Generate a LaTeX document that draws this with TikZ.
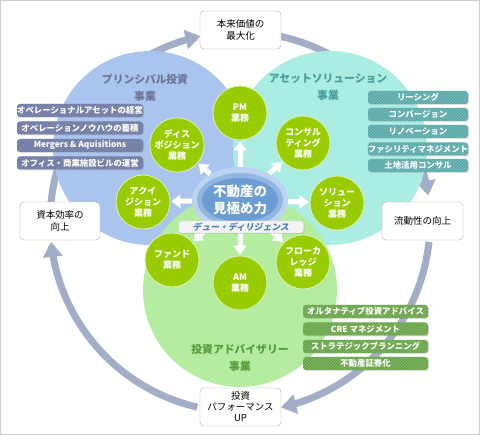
\documentclass[tikz,border=0pt]{standalone}
\usepackage{fontspec}
\setmainfont{Noto Sans CJK JP}
\newfontfamily\jpslant[FakeSlant=0.18]{Noto Sans CJK JP}
\usetikzlibrary{arrows.meta,shapes.geometric,patterns,shadows}
\definecolor{cyc}{HTML}{A2ADC8}
\definecolor{vblue}{HTML}{A9C5EE}
\definecolor{vcyan}{HTML}{ABEDE3}
\definecolor{vgreen}{HTML}{B4EDA0}
\definecolor{lime}{HTML}{99CC00}
\definecolor{tblue}{HTML}{6C7494}
\definecolor{tteal}{HTML}{4A9E9E}
\definecolor{tgreen}{HTML}{5A9A3C}
\definecolor{lblue}{HTML}{6B77A3}
\definecolor{lteal}{HTML}{58A9A9}
\definecolor{lgreen}{HTML}{67A446}
\definecolor{glowa}{HTML}{BCD4F0}
\definecolor{glowb}{HTML}{92B6E2}
\definecolor{glowc}{HTML}{6C9CD4}
\definecolor{ddtext}{HTML}{4A7EC4}
\begin{document}
\begin{tikzpicture}[x=1pt,y=-1pt,
  cyclearc/.style={draw=cyc, line width=7pt, -{Triangle[length=15pt,width=19pt]}},
  venn/.style={circle, minimum size=194pt, inner sep=0pt},
  title/.style={align=center, font=\bfseries\fontsize{10.8}{17}\selectfont, inner sep=0pt},
  valbox/.style={draw=gray!70, rounded corners=4pt, fill=white, align=center,
    font=\fontsize{9.5}{12.5}\selectfont, inner sep=0pt, minimum height=38pt, minimum width=81pt},
  listbox/.style={rounded corners=3pt, minimum height=13pt, inner sep=0pt, text=white,
    font=\bfseries\fontsize{8.4}{9}\selectfont,
    drop shadow={opacity=0.25, shadow xshift=1pt, shadow yshift=-1pt}},
  lb/.style={listbox, fill=lblue, minimum width=126pt,
    postaction={pattern=north east lines, pattern color=lblue!75!white}},
  lt/.style={listbox, fill=lteal, minimum width=100pt,
    postaction={pattern=north east lines, pattern color=lteal!75!white}},
  lg/.style={listbox, fill=lgreen, minimum width=125pt,
    postaction={pattern=north east lines, pattern color=lgreen!75!white}},
  bizc/.style={circle, fill=lime, draw=white!70!lime, line width=0.8pt, minimum size=54pt,
    inner sep=0pt, text=white, align=center, font=\bfseries\fontsize{9}{11}\selectfont},
  warrow/.style={draw=white, line width=5pt, -{Triangle[length=9pt,width=13pt]}, shorten >=1pt},
]
\useasboundingbox (0,0) rectangle (480,435);
\fill[white] (0,0) rectangle (480,435);
\draw[gray!40, line width=1pt] (0.5,0.5) rectangle (479.5,434.5);

% cycle arcs
\draw[cyclearc] plot[domain=186:258, samples=60] ({240+190*cos(\x)},{222+190*sin(\x)});
\draw[cyclearc] plot[domain=276:352, samples=60] ({240+190*cos(\x)},{222+190*sin(\x)});
\draw[cyclearc] plot[domain=6:77.5, samples=60] ({240+190*cos(\x)},{222+190*sin(\x)});
\draw[cyclearc] plot[domain=103:174, samples=60] ({240+190*cos(\x)},{222+190*sin(\x)});

% venn circles
\node[venn, fill=vblue] (vb) at (150,148) {};
\node[venn, fill=vcyan] (vc) at (330,148) {};
\node[venn, fill=vgreen] (vg) at (240,290) {};

% titles
\node[title, text=tblue] (tp) at (145,87.5) {プリンシパル投資\\事業};
\node[title, text=tteal] (ta) at (328,87.5) {アセットソリューション\\事業};
\node[title, text=tgreen] (ti) at (240,357.5) {投資アドバイザリー\\事業};

% lists
\node[lb] (l1) at (80,110.5) {オペレーショナルアセットの経営};
\node[lb] (l2) at (80,128) {オペレーションノウハウの蓄積};
\node[lb] (l3) at (80,145.5) {Mergers \& Aquisitions};
\node[lb] (l4) at (80,163) {オフィス・商業施設ビルの運営};

\node[lt] (r1) at (418,97.5) {リーシング};
\node[lt] (r2) at (418,114.5) {コンバージョン};
\node[lt] (r3) at (418,131.5) {リノベーション};
\node[lt] (r4) at (418,149) {ファシリティマネジメント};
\node[lt] (r5) at (418,165.5) {土地活用コンサル};

\node[lg] (g1) at (365.5,311.5) {オルタナティブ投資アドバイス};
\node[lg] (g2) at (365.5,329) {CRE マネジメント};
\node[lg] (g3) at (365.5,346.5) {ストラテジックプランニング};
\node[lg] (g4) at (365.5,363.5) {不動産証券化};

% core glow
\fill[glowa] (240,200) ellipse [x radius=48, y radius=33];
\fill[glowb] (240,200) ellipse [x radius=43, y radius=27];
\fill[glowc] (240,200) ellipse [x radius=38, y radius=22];
\node[ellipse, minimum width=96pt, minimum height=66pt, inner sep=0pt, text=white, align=center,
  font=\bfseries\fontsize{13.5}{16.5}\selectfont] (core) at (240,200) {不動産の\\見極め力};

% business circles
\node[bizc] (pm) at (240,113) {PM\\業務};
\node[bizc] (dis) at (177,145) {ディス\\ポジション\\業務};
\node[bizc] (con) at (303,143) {コンサル\\ティング\\業務};
\node[bizc] (acq) at (143,202) {アクイ\\ジション\\業務};
\node[bizc] (sol) at (337,203) {ソリュー\\ション\\業務};
\node[bizc] (fund) at (172,260) {ファンド\\業務};
\node[bizc] (am) at (240,283) {AM\\業務};
\node[bizc] (flow) at (303,262) {フローカ\\レッジ\\業務};

% white arrows
\foreach \t in {pm,dis,con,acq,sol,fund,am,flow}
  \draw[warrow] (core) -- (\t);

% due diligence banner
\node[rounded corners=3pt, fill=white, draw=gray!45, minimum width=125pt, minimum height=12pt,
  inner sep=0pt, drop shadow={opacity=0.2, shadow xshift=1pt, shadow yshift=-1pt},
  postaction={pattern=north east lines, pattern color=gray!25}] (dd) at (241,227) {};
\node[text=ddtext, font=\jpslant\bfseries\fontsize{8.8}{9}\selectfont, inner sep=0pt] (ddt) at (dd.center) {デュー・ディリジェンス};

% value boxes
\node[valbox] (top) at (240.5,30) {本来価値の\\最大化};
\node[valbox, minimum width=80pt] (left) at (60,221) {資本効率の\\向上};
\node[valbox] (right) at (422.5,221) {流動性の向上};
\node[valbox, font=\fontsize{9.5}{11}\selectfont] (bottom) at (240.5,407) {投資\\パフォーマンス\\UP};
\end{tikzpicture}
\end{document}
